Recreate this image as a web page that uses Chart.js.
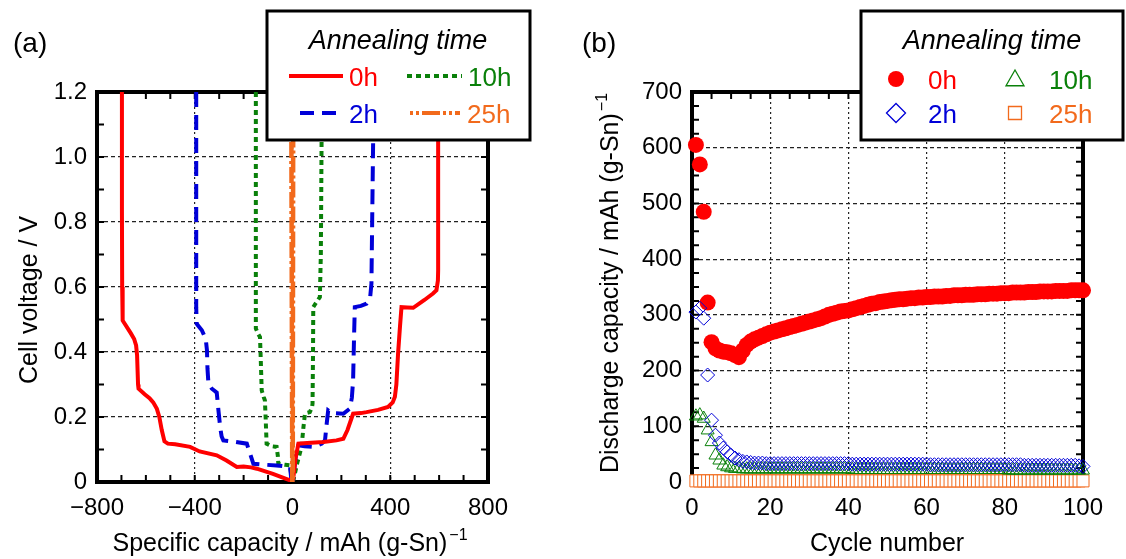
<!DOCTYPE html>
<html>
<head>
<meta charset="utf-8">
<script src="https://cdn.jsdelivr.net/npm/chart.js@4"></script>
<style>
html, body { margin: 0; padding: 0; background: #fff; }
#wrap { position: relative; width: 1126px; height: 559px; }
canvas { position: absolute; top: 0; }
#cA { left: 0; }
#cB { left: 563px; }
</style>
</head>
<body>
<div id="wrap">
  <canvas id="cA" width="563" height="559"></canvas>
  <canvas id="cB" width="563" height="559"></canvas>
</div>
<script>
// ---- panel (a): voltage profiles, capacity / voltage pairs
const seriesNames = ['0h', '2h', '10h', '25h'];

const cap0h  = [-698, -698, -697, -695, -662, -648, -640, -636, -632, -630, -605, -585, -570, -555, -545, -535, -524, -510, -480, -419, -380, -310, -270, -228, -200, -170, -146, -80, -10, 3, 12, 24, 60, 126, 180, 208, 225, 248, 280, 303, 350, 391, 410, 419, 425, 432, 440, 446, 470, 494, 540, 575, 589, 595, 596, 596];
const volt0h = [1.2, 0.84, 0.6, 0.497, 0.458, 0.44, 0.42, 0.39, 0.30, 0.287, 0.27, 0.258, 0.245, 0.225, 0.2, 0.16, 0.125, 0.118, 0.116, 0.108, 0.094, 0.082, 0.066, 0.046, 0.048, 0.045, 0.041, 0.025, 0.005, 0.01, 0.07, 0.118, 0.12, 0.123, 0.128, 0.133, 0.16, 0.21, 0.212, 0.215, 0.222, 0.231, 0.245, 0.262, 0.3, 0.395, 0.48, 0.538, 0.537, 0.536, 0.56, 0.58, 0.59, 0.62, 0.651, 1.2];

const cap2h  = [-394, -394, -392, -385, -371, -355, -350, -348, -344, -337, -330, -318, -310, -303, -296, -290, -283, -240, -187, -175, -160, -110, -65, -10, -5, 3, 15, 24, 50, 85, 120, 133, 140, 146, 160, 208, 235, 243, 248, 252, 255, 280, 303, 318, 323, 326, 330, 330];
const volt2h = [1.2, 0.538, 0.487, 0.48, 0.467, 0.44, 0.405, 0.35, 0.303, 0.295, 0.287, 0.28, 0.275, 0.22, 0.169, 0.14, 0.128, 0.124, 0.118, 0.09, 0.056, 0.053, 0.051, 0.046, 0.01, 0.01, 0.09, 0.113, 0.11, 0.108, 0.118, 0.128, 0.18, 0.22, 0.212, 0.21, 0.226, 0.26, 0.313, 0.45, 0.538, 0.542, 0.549, 0.57, 0.61, 0.8, 1.05, 1.2];

const cap10h  = [-150, -150, -140, -133, -130, -126, -118, -113, -110, -106, -85, -65, -60, -58, -30, -10, -3, 5, 20, 37, 45, 51, 60, 71, 80, 82, 84, 85, 95, 112, 116, 119, 119];
const volt10h = [1.2, 0.472, 0.455, 0.446, 0.38, 0.282, 0.262, 0.251, 0.2, 0.118, 0.11, 0.108, 0.08, 0.056, 0.053, 0.051, 0.01, 0.01, 0.06, 0.108, 0.17, 0.21, 0.213, 0.215, 0.23, 0.241, 0.4, 0.538, 0.55, 0.569, 0.7, 1.05, 1.2];

const cap25h  = [-5, -3, -1, 1, 2, 3];
const volt25h = [1.2, 0.6, 0.0, 0.0, 0.6, 1.2];

// ---- panel (b): discharge capacity per cycle
const cycles = [1, 2, 3, 4, 5, 6, 7, 8, 9, 10, 11, 12, 13, 14, 15, 16, 17, 18, 19, 20,
  21, 22, 23, 24, 25, 26, 27, 28, 29, 30, 31, 32, 33, 34, 35, 36, 37, 38, 39, 40,
  41, 42, 43, 44, 45, 46, 47, 48, 49, 50, 51, 52, 53, 54, 55, 56, 57, 58, 59, 60,
  61, 62, 63, 64, 65, 66, 67, 68, 69, 70, 71, 72, 73, 74, 75, 76, 77, 78, 79, 80,
  81, 82, 83, 84, 85, 86, 87, 88, 89, 90, 91, 92, 93, 94, 95, 96, 97, 98, 99, 100];

const dis0h = [605, 570, 485, 322, 251, 240, 236, 234, 233, 231, 228, 224, 236, 246, 252, 256, 259, 262, 265, 268,
  270, 272, 274, 276, 278, 280, 282, 284, 286, 288, 290, 292, 294, 297, 300, 302, 304, 306, 307, 308,
  310, 312, 314, 316, 318, 320, 321, 323, 324, 325, 326, 327, 328, 328, 329, 330, 330, 331, 331, 332,
  332, 333, 333, 333, 334, 334, 335, 335, 335, 336, 336, 336, 337, 337, 337, 338, 338, 338, 339, 339,
  339, 340, 340, 340, 340, 341, 341, 341, 342, 342, 342, 342, 343, 343, 343, 343, 344, 344, 344, 344];

const dis2h = [305, 312, 294, 192, 111, 84, 70, 61, 54, 48, 43, 40, 37, 36, 35, 34, 34, 34, 33, 33,
  33, 33, 33, 33, 33, 33, 33, 33, 33, 33, 33, 33, 33, 33, 33, 33, 33, 33, 33, 33,
  32, 32, 32, 32, 32, 32, 32, 32, 32, 32, 32, 32, 32, 32, 32, 32, 32, 32, 32, 32,
  31, 31, 31, 31, 31, 31, 31, 31, 31, 31, 31, 31, 31, 31, 31, 31, 31, 31, 31, 31,
  31, 31, 31, 31, 30, 30, 30, 30, 30, 30, 30, 30, 30, 30, 30, 30, 30, 30, 29, 28];

const dis10h = [118, 120, 114, 93, 72, 48, 39, 30, 27, 25, 24, 24, 23, 23, 23, 23, 23, 23, 23, 23,
  23, 23, 23, 23, 23, 23, 23, 23, 23, 23, 23, 23, 23, 23, 23, 23, 23, 23, 23, 23,
  22, 22, 22, 22, 22, 22, 22, 22, 22, 22, 22, 22, 22, 22, 22, 22, 22, 22, 22, 22,
  22, 22, 22, 22, 22, 22, 22, 22, 22, 22, 22, 22, 22, 22, 22, 22, 22, 22, 22, 22,
  21, 21, 21, 21, 21, 21, 21, 21, 21, 21, 21, 21, 21, 21, 21, 21, 21, 21, 21, 21];

const dis25h = [2, 2, 2, 2, 2, 2, 2, 2, 2, 2, 2, 2, 2, 2, 2, 2, 2, 2, 2, 2,
  2, 2, 2, 2, 2, 2, 2, 2, 2, 2, 2, 2, 2, 2, 2, 2, 2, 2, 2, 2,
  2, 2, 2, 2, 2, 2, 2, 2, 2, 2, 2, 2, 2, 2, 2, 2, 2, 2, 2, 2,
  2, 2, 2, 2, 2, 2, 2, 2, 2, 2, 2, 2, 2, 2, 2, 2, 2, 2, 2, 2,
  2, 2, 2, 2, 2, 2, 2, 2, 2, 2, 2, 2, 2, 2, 2, 2, 2, 2, 2, 2];

// tick values
const capTicks = [-800, -400, 0, 400, 800];
const voltTicks = [0, 0.2, 0.4, 0.6, 0.8, 1.0, 1.2];
const cycleTicks = [0, 20, 40, 60, 80, 100];
const disTicks = [0, 100, 200, 300, 400, 500, 600, 700];

const RED = '#ff0000', BLUE = '#0000d8', GREEN = '#0a800a', ORANGE = '#f26a1c';
const FONT = "'Liberation Sans', Arial, sans-serif";

Chart.defaults.font.family = FONT;
Chart.defaults.font.size = 24;
Chart.defaults.color = '#000';

const pairs = (xs, ys) => xs.map((v, i) => ({x: v, y: ys[i]}));
const minus = v => v < 0 ? '\u2212' + Math.abs(v) : String(v);
const hideEdges = c => (c.tick && (c.tick.value <= c.scale.min + 1e-9 || c.tick.value >= c.scale.max - 1e-9)) ? 'rgba(0,0,0,0)' : '#222';

// frame, inward minor ticks, legend box, axis titles
const decor = {
  id: 'decor',
  beforeDatasetsDraw(chart, args, o) {
    const {ctx, chartArea: a, scales: {x, y}} = chart;
    ctx.save();
    ctx.strokeStyle = '#000';
    ctx.lineWidth = 2;
    ctx.beginPath();
    const nx = Math.round((x.max - x.min) / o.xMinor);
    for (let i = 0; i <= nx; i++) {
      const px = x.getPixelForValue(x.min + i * o.xMinor);
      ctx.moveTo(px, a.bottom); ctx.lineTo(px, a.bottom - 7);
      ctx.moveTo(px, a.top); ctx.lineTo(px, a.top + 7);
    }
    const ny = Math.round((y.max - y.min) / o.yMinor);
    for (let i = 0; i <= ny; i++) {
      const py = y.getPixelForValue(y.min + i * o.yMinor);
      ctx.moveTo(a.left, py); ctx.lineTo(a.left + 7, py);
      ctx.moveTo(a.right, py); ctx.lineTo(a.right - 7, py);
    }
    ctx.stroke();
    ctx.lineWidth = 4;
    ctx.strokeRect(a.left, a.top, a.right - a.left, a.bottom - a.top);
    ctx.restore();
  },
  afterDraw(chart, args, o) {
    const ctx = chart.ctx;
    ctx.save();
    // legend box
    const b = o.box;
    ctx.fillStyle = '#fff';
    ctx.fillRect(b.x, b.y, b.w, b.h);
    ctx.lineWidth = 3;
    ctx.strokeStyle = '#000';
    ctx.strokeRect(b.x, b.y, b.w, b.h);
    ctx.fillStyle = '#000';
    ctx.font = 'italic 27px ' + FONT;
    ctx.textAlign = 'center';
    ctx.textBaseline = 'alphabetic';
    ctx.fillText('Annealing time', b.titleX, b.titleY);
    ctx.textAlign = 'left';
    ctx.font = '26px ' + FONT;
    o.items.forEach(it => {
      ctx.strokeStyle = it.color;
      ctx.fillStyle = it.color;
      if (it.kind === 'line') {
        ctx.lineWidth = 4;
        ctx.setLineDash(it.dash);
        ctx.beginPath();
        ctx.moveTo(it.x1, it.y); ctx.lineTo(it.x2, it.y);
        ctx.stroke();
        ctx.setLineDash([]);
      } else {
        ctx.lineWidth = 1.3;
        ctx.beginPath();
        const r = it.r, cx = it.x1, cy = it.y;
        if (it.kind === 'circle') { ctx.arc(cx, cy, r, 0, Math.PI * 2); ctx.fill(); }
        if (it.kind === 'diamond') { ctx.moveTo(cx - r, cy); ctx.lineTo(cx, cy - r); ctx.lineTo(cx + r, cy); ctx.lineTo(cx, cy + r); ctx.closePath(); ctx.stroke(); }
        if (it.kind === 'triangle') { ctx.moveTo(cx, cy - r); ctx.lineTo(cx + r, cy + r * 0.75); ctx.lineTo(cx - r, cy + r * 0.75); ctx.closePath(); ctx.stroke(); }
        if (it.kind === 'square') { ctx.rect(cx - r, cy - r, 2 * r, 2 * r); ctx.stroke(); }
      }
      ctx.fillText(it.label, it.tx, it.y + 9.5);
    });
    // panel letter
    ctx.fillStyle = '#000';
    ctx.font = '28px ' + FONT;
    ctx.fillText(o.panel.text, o.panel.x, o.panel.y);
    // axis titles with superscript
    const title = (t, rot) => {
      ctx.save();
      ctx.translate(t.x, t.y);
      if (rot) ctx.rotate(-Math.PI / 2);
      ctx.font = '25px ' + FONT;
      const w1 = ctx.measureText(t.text).width;
      ctx.font = '16px ' + FONT;
      const w2 = t.sup ? ctx.measureText(t.sup).width + 2 : 0;
      const x0 = -(w1 + w2) / 2;
      ctx.textAlign = 'left';
      ctx.font = '25px ' + FONT;
      ctx.fillText(t.text, x0, 0);
      if (t.sup) {
        ctx.font = '16px ' + FONT;
        ctx.fillText(t.sup, x0 + w1 + 2, -11);
      }
      ctx.restore();
    };
    title(o.xTitle, false);
    title(o.yTitle, true);
    ctx.restore();
  }
};

function fixWidth(w) { return s => { s.width = w; }; }
function fixHeight(h) { return s => { s.height = h; }; }

// ---------- chart (a)
new Chart(document.getElementById('cA'), {
  type: 'scatter',
  data: {
    datasets: [
      {label: seriesNames[3], data: pairs(cap25h, volt25h), borderColor: ORANGE, borderWidth: 4.5, borderDash: [16, 3, 3, 3], order: 0},
      {label: seriesNames[0], data: pairs(cap0h, volt0h), borderColor: RED, borderWidth: 4, order: 1},
      {label: seriesNames[1], data: pairs(cap2h, volt2h), borderColor: BLUE, borderWidth: 4, borderDash: [15, 8], order: 2},
      {label: seriesNames[2], data: pairs(cap10h, volt10h), borderColor: GREEN, borderWidth: 4, borderDash: [5, 4], order: 3}
    ].map(d => Object.assign(d, {showLine: true, pointRadius: 0, tension: 0, fill: false}))
  },
  options: {
    responsive: false,
    animation: false,
    layout: {padding: {left: 0, right: 75, top: 92, bottom: 0}},
    plugins: {
      legend: {display: false},
      tooltip: {enabled: false},
      decor: {
        xMinor: 100, yMinor: 0.1,
        box: {x: 267, y: 11, w: 263, h: 129, titleX: 398, titleY: 49},
        items: [
          {label: '0h', color: RED, kind: 'line', dash: [], x1: 289, x2: 343, tx: 349, y: 76},
          {label: '10h', color: GREEN, kind: 'line', dash: [5, 4], x1: 407, x2: 462, tx: 468, y: 76},
          {label: '2h', color: BLUE, kind: 'line', dash: [14, 8], x1: 300, x2: 340, tx: 349, y: 113},
          {label: '25h', color: ORANGE, kind: 'line', dash: [3, 3, 3, 3, 18, 3], x1: 410, x2: 460, tx: 467, y: 113}
        ],
        panel: {text: '(a)', x: 13, y: 52},
        xTitle: {text: 'Specific capacity / mAh (g-Sn)', sup: '\u22121', x: 290, y: 551},
        yTitle: {text: 'Cell voltage / V', x: 37, y: 300}
      }
    },
    scales: {
      x: {
        type: 'linear', min: -800, max: 800,
        afterBuildTicks: s => { s.ticks = capTicks.map(v => ({value: v})); },
        afterFit: fixHeight(77),
        ticks: {callback: minus, padding: 12, maxRotation: 0, font: {size: 24}},
        grid: {color: hideEdges, drawTicks: false, lineWidth: 1.2},
        border: {display: false, dash: [2, 3]}
      },
      y: {
        type: 'linear', min: 0, max: 1.2,
        afterBuildTicks: s => { s.ticks = voltTicks.map(v => ({value: v})); },
        afterFit: fixWidth(97),
        ticks: {callback: v => v === 0 ? '0' : v.toFixed(1), padding: 10, font: {size: 24}},
        grid: {color: hideEdges, drawTicks: false, lineWidth: 1.2},
        border: {display: false, dash: [4, 3]}
      }
    }
  },
  plugins: [decor]
});

// ---------- chart (b)
new Chart(document.getElementById('cB'), {
  type: 'scatter',
  data: {
    datasets: [
      {label: seriesNames[1], data: pairs(cycles, dis2h), pointStyle: 'rectRot', pointRadius: 7, borderColor: BLUE, backgroundColor: 'rgba(0,0,0,0)', borderWidth: 1, order: 1},
      {label: seriesNames[2], data: pairs(cycles, dis10h), pointStyle: 'triangle', pointRadius: 7.5, borderColor: GREEN, backgroundColor: 'rgba(0,0,0,0)', borderWidth: 1, order: 2},
      {label: seriesNames[0], data: pairs(cycles, dis0h), pointStyle: 'circle', pointRadius: 8, borderColor: RED, backgroundColor: RED, borderWidth: 0, order: 3},
      {label: seriesNames[3], data: pairs(cycles, dis25h), pointStyle: 'rect', pointRadius: 8.5, borderColor: ORANGE, backgroundColor: '#fff', borderWidth: 1, order: 4}
    ].map(d => Object.assign(d, {clip: false}))
  },
  options: {
    responsive: false,
    animation: false,
    layout: {padding: {left: 0, right: 43, top: 92, bottom: 0}},
    plugins: {
      legend: {display: false},
      tooltip: {enabled: false},
      decor: {
        xMinor: 5, yMinor: 25,
        box: {x: 298, y: 11, w: 262, h: 129, titleX: 429, titleY: 49},
        items: [
          {label: '0h', color: RED, kind: 'circle', r: 8, x1: 333, tx: 365, y: 79},
          {label: '10h', color: GREEN, kind: 'triangle', r: 9, x1: 452, tx: 486, y: 79},
          {label: '2h', color: BLUE, kind: 'diamond', r: 9.5, x1: 333, tx: 365, y: 113},
          {label: '25h', color: ORANGE, kind: 'square', r: 6.5, x1: 452, tx: 486, y: 113}
        ],
        panel: {text: '(b)', x: 19, y: 52},
        xTitle: {text: 'Cycle number', x: 324, y: 551},
        yTitle: {text: 'Discharge capacity / mAh (g-Sn)', sup: '\u22121', x: 55, y: 283}
      }
    },
    scales: {
      x: {
        type: 'linear', min: 0, max: 100,
        afterBuildTicks: s => { s.ticks = cycleTicks.map(v => ({value: v})); },
        afterFit: fixHeight(77),
        ticks: {padding: 12, maxRotation: 0, font: {size: 24}},
        grid: {color: hideEdges, drawTicks: false, lineWidth: 1.2},
        border: {display: false, dash: [2, 3]}
      },
      y: {
        type: 'linear', min: 0, max: 700,
        afterBuildTicks: s => { s.ticks = disTicks.map(v => ({value: v})); },
        afterFit: fixWidth(129),
        ticks: {padding: 10, font: {size: 24}},
        grid: {color: hideEdges, drawTicks: false, lineWidth: 1.2},
        border: {display: false, dash: [4, 3]}
      }
    }
  },
  plugins: [decor]
});
</script>
</body>
</html>
